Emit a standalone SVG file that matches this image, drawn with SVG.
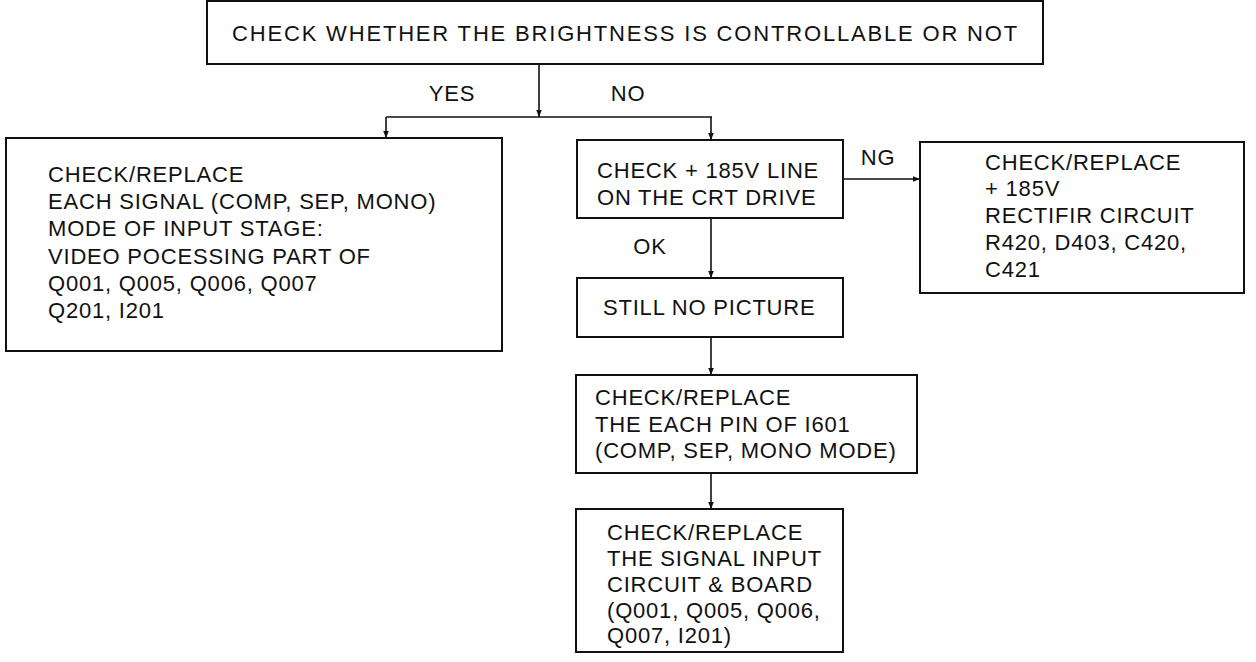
<svg xmlns="http://www.w3.org/2000/svg" width="1256" height="662" viewBox="0 0 1256 662">
<style>
.box{fill:#fff;stroke:#111;stroke-width:2}
.t{font-family:"Liberation Sans",Arial,sans-serif;font-size:22px;letter-spacing:0.8px;fill:#111}
.c{stroke:#111;stroke-width:1.6;fill:none}
</style>
<defs>
<marker id="ah" viewBox="0 0 10 10" refX="10" refY="5" markerWidth="7" markerHeight="9" markerUnits="userSpaceOnUse" orient="auto">
<path d="M0,1 L10,5 L0,9 z" fill="#111"/>
</marker>
</defs>
<rect width="1256" height="662" fill="#fff"/>
<g id="connectors">
<line class="c" x1="539" y1="64" x2="539" y2="117" marker-end="url(#ah)"/>
<line class="c" x1="386" y1="117" x2="712" y2="117"/>
<line class="c" x1="386" y1="117" x2="386" y2="138" marker-end="url(#ah)"/>
<line class="c" x1="711" y1="117" x2="711" y2="140" marker-end="url(#ah)"/>
<line class="c" x1="711" y1="218" x2="711" y2="278" marker-end="url(#ah)"/>
<line class="c" x1="843" y1="179" x2="920" y2="179" marker-end="url(#ah)"/>
<line class="c" x1="711" y1="337" x2="711" y2="375" marker-end="url(#ah)"/>
<line class="c" x1="711" y1="473" x2="711" y2="509" marker-end="url(#ah)"/>
<text class="t" x="452" y="101" text-anchor="middle">YES</text>
<text class="t" x="628" y="101" text-anchor="middle">NO</text>
<text class="t" x="650" y="254" text-anchor="middle">OK</text>
<text class="t" x="878" y="165" text-anchor="middle">NG</text>
</g>
<g id="n-top">
<rect class="box" x="207" y="1" width="836" height="63"/>
<text class="t" x="232" y="41" textLength="786" lengthAdjust="spacing">CHECK WHETHER THE BRIGHTNESS IS CONTROLLABLE OR NOT</text>
</g>
<g id="n-yes">
<rect class="box" x="6" y="138" width="496" height="213"/>
<text class="t" x="48" y="182">CHECK/REPLACE</text>
<text class="t" x="48" y="209">EACH SIGNAL (COMP, SEP, MONO)</text>
<text class="t" x="48" y="236">MODE OF INPUT STAGE:</text>
<text class="t" x="48" y="264">VIDEO POCESSING PART OF</text>
<text class="t" x="48" y="291">Q001, Q005, Q006, Q007</text>
<text class="t" x="48" y="318">Q201, I201</text>
</g>
<g id="n-185">
<rect class="box" x="577" y="140" width="266" height="78"/>
<text class="t" x="597" y="178">CHECK + 185V LINE</text>
<text class="t" x="597" y="205">ON THE CRT DRIVE</text>
</g>
<g id="n-rect">
<rect class="box" x="920" y="142" width="324" height="151"/>
<text class="t" x="985" y="170">CHECK/REPLACE</text>
<text class="t" x="985" y="196">+ 185V</text>
<text class="t" x="985" y="223">RECTIFIR CIRCUIT</text>
<text class="t" x="985" y="250">R420, D403, C420,</text>
<text class="t" x="985" y="277">C421</text>
</g>
<g id="n-still">
<rect class="box" x="577" y="278" width="266" height="59"/>
<text class="t" x="603" y="315">STILL NO PICTURE</text>
</g>
<g id="n-i601">
<rect class="box" x="576" y="375" width="341" height="98"/>
<text class="t" x="595" y="405">CHECK/REPLACE</text>
<text class="t" x="595" y="432">THE EACH PIN OF I601</text>
<text class="t" x="595" y="458">(COMP, SEP, MONO MODE)</text>
</g>
<g id="n-input">
<rect class="box" x="576" y="509" width="267" height="143"/>
<text class="t" x="607" y="540">CHECK/REPLACE</text>
<text class="t" x="607" y="566">THE SIGNAL INPUT</text>
<text class="t" x="607" y="592">CIRCUIT &amp; BOARD</text>
<text class="t" x="607" y="618">(Q001, Q005, Q006,</text>
<text class="t" x="607" y="643">Q007, I201)</text>
</g>
</svg>
